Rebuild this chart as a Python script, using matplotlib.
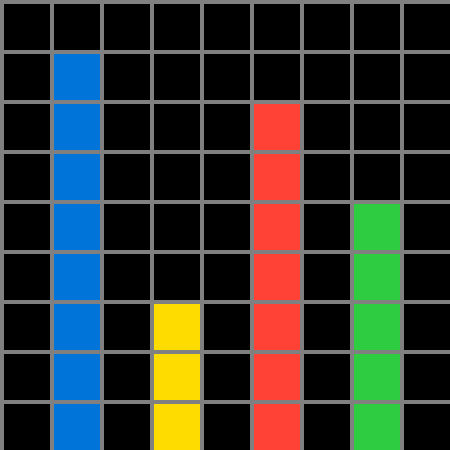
import matplotlib
matplotlib.use("Agg")
import matplotlib.pyplot as plt

# column index of each bar and its height in cells
columns = [1, 3, 5, 7]
heights = [8, 3, 7, 5]
colors = ["#0074D9", "#FFDC00", "#FF4136", "#2ECC40"]

n_cells = 9

fig = plt.figure(figsize=(4.5, 4.5), dpi=100, facecolor="black")
ax = fig.add_axes([0, 0, 1, 1])
ax.set_facecolor("black")

ax.bar(columns, heights, width=1, align="edge", color=colors, linewidth=0, zorder=1)

# grid lines: 4px wide, sitting on the left/top edge of every cell
lw = 4 * 72 / 100
off = 0.04
for k in range(n_cells):
    ax.axvline(k + off, color="#808080", linewidth=lw, zorder=2)
    ax.axhline(n_cells - k - off, color="#808080", linewidth=lw, zorder=2)

ax.set_xlim(0, n_cells)
ax.set_ylim(0, n_cells)
ax.axis("off")

fig.savefig("out.png", dpi=100, facecolor="black")
